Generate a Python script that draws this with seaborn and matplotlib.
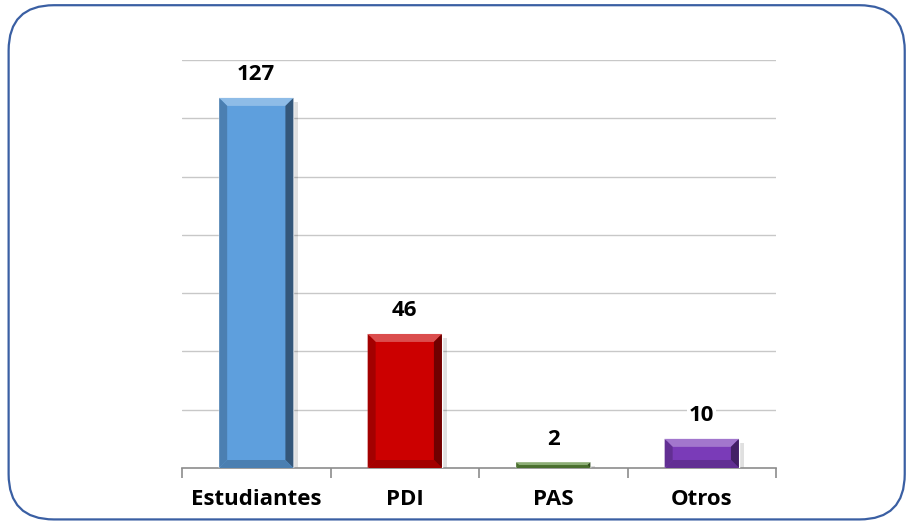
import numpy as np
import matplotlib
matplotlib.use('Agg')
import matplotlib.pyplot as plt
import matplotlib.colors as mcolors
from matplotlib.patches import FancyBboxPatch, Polygon
import seaborn as sns

# --- Data --------------------------------------------------------------------
categories = ['Estudiantes', 'PDI', 'PAS', 'Otros']
values = [127, 46, 2, 10]
bar_colors = ['#5E9FDD', '#CC0000', '#5B8A3A', '#7A3BB8']

# --- Style -------------------------------------------------------------------
sns.set_theme(style='white')
plt.rcParams['font.family'] = ['Open Sans', 'DejaVu Sans']

fig = plt.figure(figsize=(9.07, 5.21), dpi=100)
ax = fig.add_axes([0.2007, 0.1017, 0.6549, 0.7831])

# rounded frame around the chart
frame = FancyBboxPatch((0.0095, 0.003), 0.988, 0.987, boxstyle='round,pad=0,rounding_size=0.05',
                       transform=fig.transFigure, facecolor='none', edgecolor='#3A5FA3',
                       linewidth=1.6, mutation_aspect=907 / 521, zorder=0)
fig.patches.append(frame)

sns.barplot(x=categories, y=values, hue=categories, palette=bar_colors, legend=False,
            width=0.5, saturation=1, ax=ax, zorder=3)

ax.set_ylim(0, 140)
ax.set_xlim(-0.5, 3.5)
ax.set_yticks(np.arange(20, 141, 20))
ax.yaxis.grid(True, color='#C8C8C8', linewidth=1)
ax.set_axisbelow(True)
ax.tick_params(axis='y', left=False, labelleft=False)
ax.set_xlabel('')
ax.set_ylabel('')
for s in ['top', 'right', 'left']:
    ax.spines[s].set_visible(False)
ax.spines['bottom'].set_color('#8C8C8C')
ax.spines['bottom'].set_linewidth(1.2)
ax.set_xticks(np.arange(-0.5, 4, 1), minor=True)
ax.tick_params(axis='x', which='minor', bottom=True, length=7, width=1.2, color='#8C8C8C', direction='out')
ax.tick_params(axis='x', which='major', length=0, pad=15)
for lbl in ax.get_xticklabels():
    lbl.set_fontsize(16)
    lbl.set_fontweight('bold')
    lbl.set_color('black')

# bevel effect on each bar
fig.canvas.draw()
(p0x, p0y), (p1x, p1y) = ax.transData.transform([(0, 0), (1, 1)])
ux, uy = 1 / (p1x - p0x), 1 / (p1y - p0y)
for patch, col in zip(ax.patches, bar_colors):
    x0, y0 = patch.get_x(), patch.get_y()
    w, h = patch.get_width(), patch.get_height()
    x1, y1 = x0 + w, y0 + h
    bx = 8 * ux
    by = min(8 * uy, h / 2)
    bxs = min(bx, by / uy * ux)
    base = np.array(mcolors.to_rgb(col))
    light = base + (1 - base) * 0.3
    dark = base * 0.55
    mid = base * 0.8
    # drop shadow
    ax.add_patch(Polygon([(x1, y0), (x1 + 5 * ux, y0), (x1 + 5 * ux, y1 - 4 * uy), (x1, y1 - 4 * uy)],
                         closed=True, facecolor='#000000', alpha=0.12, edgecolor='none', zorder=2))
    inner = [(x0 + bxs, y1 - by), (x1 - bxs, y1 - by), (x1 - bxs, y0 + by), (x0 + bxs, y0 + by)]
    ax.add_patch(Polygon([(x0, y1), (x1, y1), inner[1], inner[0]], closed=True,
                         facecolor=light, edgecolor='none', zorder=4))
    ax.add_patch(Polygon([(x1, y1), (x1, y0), inner[2], inner[1]], closed=True,
                         facecolor=dark, edgecolor='none', zorder=4))
    ax.add_patch(Polygon([(x0, y0), (x1, y0), inner[2], inner[3]], closed=True,
                         facecolor=mid, edgecolor='none', zorder=4))
    ax.add_patch(Polygon([(x0, y0), (x0, y1), inner[0], inner[3]], closed=True,
                         facecolor=mid, edgecolor='none', zorder=4))

# value labels
for i, v in enumerate(values):
    ax.annotate(str(v), xy=(i, v), xytext=(0, 9), textcoords='offset points',
                ha='center', va='bottom', fontsize=16, fontweight='bold', color='black',
                bbox=dict(facecolor='white', edgecolor='none', pad=1.5), zorder=6)

fig.savefig('out.png', dpi=100)
